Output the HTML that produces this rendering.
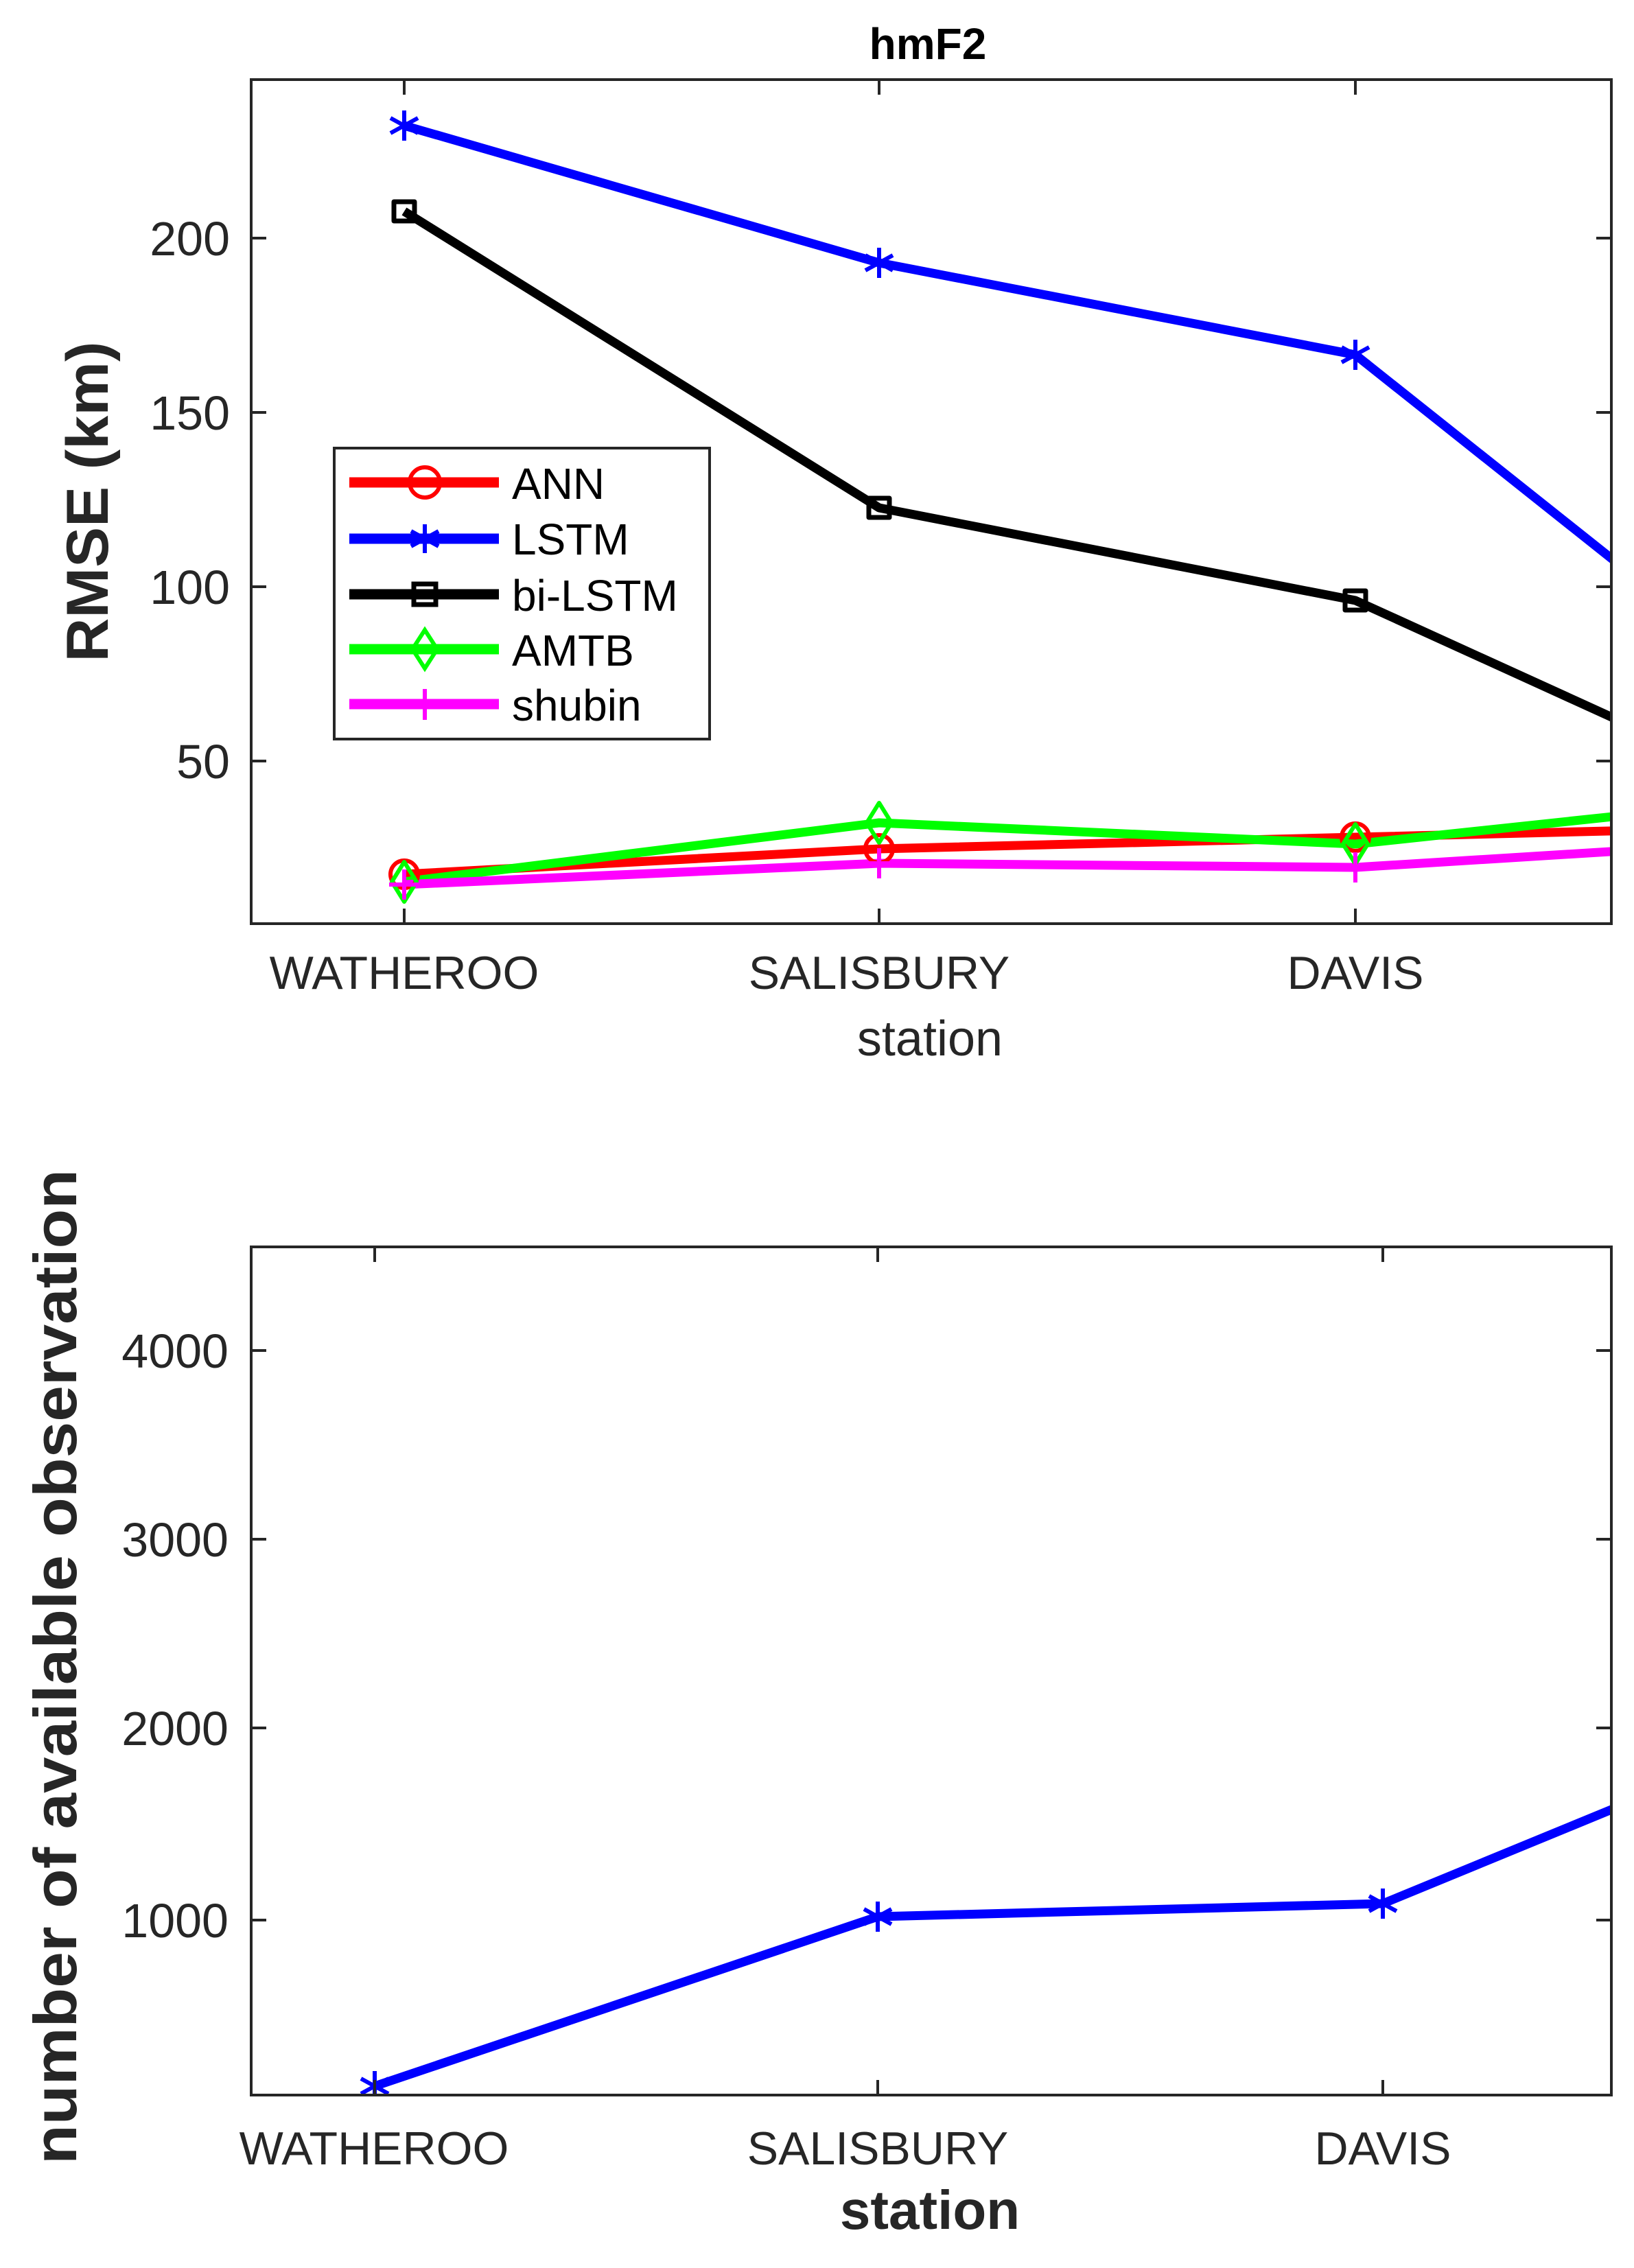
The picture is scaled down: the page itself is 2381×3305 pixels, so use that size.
<!DOCTYPE html>
<html><head><meta charset="utf-8"><style>html,body{margin:0;padding:0;background:#fff}svg{display:block}</style></head>
<body>
<svg width="2381" height="3305" viewBox="0 0 2381 3305" xmlns="http://www.w3.org/2000/svg" font-family="Liberation Sans, sans-serif">
<defs>
<clipPath id="c1"><rect x="366" y="116" width="1982" height="1230"/></clipPath>
<clipPath id="c2"><rect x="366" y="1817" width="1982" height="1236"/></clipPath>
<g id="star"><path d="M0,-22V22M-20,-11L20,11M-20,11L20,-11" stroke="#0000ff" stroke-width="6" fill="none"/></g>
</defs>
<rect width="2381" height="3305" fill="#fff"/>

<!-- TOP PLOT -->
<text x="1352" y="86" font-size="64" font-weight="bold" text-anchor="middle" fill="#000">hmF2</text>
<g clip-path="url(#c1)" fill="none" stroke-linejoin="round">
<polyline points="589,183 1281,383 1975,517 2669,1069" stroke="#0000ff" stroke-width="13"/>
<polyline points="589,308 1281,740 1975,875 2669,1191" stroke="#000" stroke-width="13"/>
<polyline points="589,1274 1281,1237 1975,1220 2669,1203" stroke="#ff0000" stroke-width="13"/>
<polyline points="589,1285 1281,1199 1975,1230 2669,1156" stroke="#00ff00" stroke-width="13"/>
<polyline points="589,1289 1281,1258 1975,1264 2669,1221" stroke="#ff00ff" stroke-width="13"/>
<use href="#star" x="589" y="183"/><use href="#star" x="1281" y="383"/><use href="#star" x="1975" y="517"/>
<g stroke="#000" stroke-width="7"><rect x="574" y="294" width="30" height="28"/><rect x="1266" y="726" width="30" height="28"/><rect x="1960" y="861" width="30" height="28"/></g>
<g stroke="#ff0000" stroke-width="6"><circle cx="589" cy="1274" r="20"/><circle cx="1281" cy="1237" r="20"/><circle cx="1975" cy="1220" r="20"/></g>
<g stroke="#00ff00" stroke-width="6"><path d="M589,1256L607,1285L589,1314L571,1285Z"/><path d="M1281,1170L1299,1199L1281,1228L1263,1199Z"/><path d="M1975,1201L1993,1230L1975,1259L1957,1230Z"/></g>
<g stroke="#ff00ff" stroke-width="6"><path d="M589,1267V1311M567,1289H611"/><path d="M1281,1236V1280M1259,1258H1303"/><path d="M1975,1242V1286M1953,1264H1997"/></g>
</g>
<g stroke="#262626" stroke-width="4" fill="none">
<rect x="366" y="116" width="1982" height="1230"/>
<path d="M589,1346v-22M1281,1346v-22M1975,1346v-22M589,116v22M1281,116v22M1975,116v22"/>
<path d="M366,347h22M366,601h22M366,855h22M366,1109h22M2348,347h-22M2348,601h-22M2348,855h-22M2348,1109h-22"/>
</g>
<g font-size="70" fill="#262626" text-anchor="end">
<text x="335" y="372">200</text><text x="335" y="626">150</text><text x="335" y="880">100</text><text x="335" y="1134">50</text>
</g>
<g font-size="68" fill="#262626" text-anchor="middle">
<text x="589" y="1441">WATHEROO</text><text x="1281" y="1441">SALISBURY</text><text x="1975" y="1441">DAVIS</text>
<text x="1355" y="1538" font-size="72">station</text>
</g>
<text transform="translate(157,731) rotate(-90)" font-size="86" font-weight="bold" fill="#262626" text-anchor="middle" textLength="467" lengthAdjust="spacingAndGlyphs">RMSE (km)</text>

<!-- legend -->
<rect x="487" y="653" width="547" height="424" fill="#fff" stroke="#262626" stroke-width="4"/>
<g stroke-width="15" fill="none">
<path d="M509,703H727" stroke="#ff0000"/><path d="M509,785H727" stroke="#0000ff"/><path d="M509,866H727" stroke="#000"/><path d="M509,946H727" stroke="#00ff00"/><path d="M509,1026H727" stroke="#ff00ff"/>
</g>
<g fill="none" stroke-width="6">
<circle cx="619" cy="703" r="22" stroke="#ff0000"/>
<path d="M619,764V806M599,774L639,796M599,796L639,774" stroke="#0000ff"/>
<rect x="603" y="851" width="32" height="30" stroke="#000" stroke-width="7"/>
<path d="M619,918L637,946L619,974L601,946Z" stroke="#00ff00"/>
<path d="M619,1004V1049" stroke="#ff00ff"/>
</g>
<g font-size="64" fill="#000">
<text x="746" y="727">ANN</text><text x="746" y="808">LSTM</text><text x="746" y="890">bi-LSTM</text><text x="746" y="970">AMTB</text><text x="746" y="1050">shubin</text>
</g>

<!-- BOTTOM PLOT -->
<g clip-path="url(#c2)" fill="none">
<polyline points="546,3040 1279,2793 2015,2774 2669,2505" stroke="#0000ff" stroke-width="13" stroke-linejoin="round"/>
<use href="#star" x="546" y="3040"/><use href="#star" x="1279" y="2793"/><use href="#star" x="2015" y="2774"/>
</g>
<g stroke="#262626" stroke-width="4" fill="none">
<rect x="366" y="1817" width="1982" height="1236"/>
<path d="M546,3053v-22M1279,3053v-22M2015,3053v-22M546,1817v22M1279,1817v22M2015,1817v22"/>
<path d="M366,1968h22M366,2243h22M366,2518h22M366,2798h22M2348,1968h-22M2348,2243h-22M2348,2518h-22M2348,2798h-22"/>
</g>
<g font-size="70" fill="#262626" text-anchor="end">
<text x="333" y="1993">4000</text><text x="333" y="2268">3000</text><text x="333" y="2543">2000</text><text x="333" y="2823">1000</text>
</g>
<g font-size="68" fill="#262626" text-anchor="middle">
<text x="545" y="3154">WATHEROO</text><text x="1279" y="3154">SALISBURY</text><text x="2015" y="3154">DAVIS</text>
</g>
<text x="1355" y="3248" font-size="80" font-weight="bold" fill="#262626" text-anchor="middle">station</text>
<text transform="translate(111,2429) rotate(-90)" font-size="88" font-weight="bold" fill="#262626" text-anchor="middle" textLength="1450" lengthAdjust="spacingAndGlyphs">number of available observation</text>
</svg>
</body></html>
